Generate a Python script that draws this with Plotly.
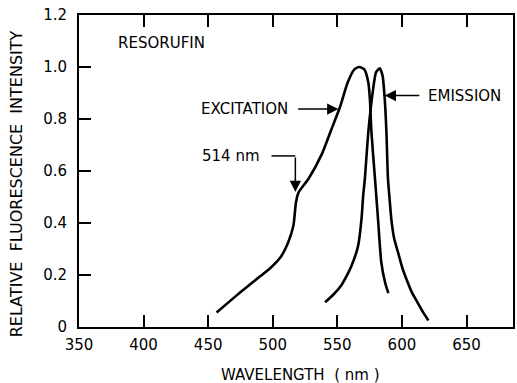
import plotly.graph_objects as go

# Excitation spectrum (wavelength nm, relative intensity)
exc_wl = [456.5, 470, 480, 489, 498, 506, 512, 516, 518, 520, 527.7, 538, 545, 552, 558, 563, 567, 571, 574, 575.2, 576.4, 579, 581.5, 584, 587, 589.5]
exc_int = [0.056, 0.113, 0.154, 0.19, 0.226, 0.268, 0.326, 0.39, 0.48, 0.518, 0.57, 0.665, 0.755, 0.845, 0.94, 0.99, 1.0, 0.99, 0.94, 0.877, 0.75, 0.58, 0.415, 0.25, 0.17, 0.13]

# Emission spectrum
em_wl = [540.5, 547, 553, 557, 561, 566, 568.7, 570, 571.3, 574, 577.7, 580, 582.8, 585, 586.7, 588, 589.2, 590.5, 591.8, 594, 597, 600.5, 604.6, 608, 612, 616, 620.5]
em_int = [0.095, 0.125, 0.16, 0.195, 0.236, 0.31, 0.415, 0.505, 0.57, 0.75, 0.915, 0.98, 0.995, 0.967, 0.877, 0.75, 0.57, 0.49, 0.415, 0.34, 0.287, 0.225, 0.17, 0.13, 0.095, 0.06, 0.025]

x_ticks = [350, 400, 450, 500, 550, 600, 650]
y_ticks = [0, 0.2, 0.4, 0.6, 0.8, 1.0, 1.2]
y_ticktext = ["0", "0.2", "0.4", "0.6", "0.8", "1.0", "1.2"]

FONT = "DejaVu Sans"
fs = 15

fig = go.Figure()
fig.add_trace(go.Scatter(x=exc_wl, y=exc_int, mode="lines",
                         line=dict(color="black", width=2.6, shape="spline", smoothing=0.6),
                         showlegend=False, hoverinfo="skip"))
fig.add_trace(go.Scatter(x=em_wl, y=em_int, mode="lines",
                         line=dict(color="black", width=2.6, shape="spline", smoothing=0.6),
                         showlegend=False, hoverinfo="skip"))

axis_common = dict(showgrid=False, zeroline=False, showline=True, linecolor="black", linewidth=2,
                   ticks="inside", ticklen=12, tickwidth=1.6, tickcolor="black",
                   ticklabeloverflow="allow",
                   tickfont=dict(family=FONT, size=fs, color="black"))

fig.update_xaxes(range=[350, 686], tickmode="array", tickvals=x_ticks,
                 ticktext=[str(v) for v in x_ticks], mirror="ticks",
                 ticklabelstandoff=3, **axis_common)
fig.update_yaxes(range=[0, 1.2], tickmode="array", tickvals=y_ticks,
                 ticktext=y_ticktext, mirror=True, ticklabelstandoff=7, **axis_common)

tf = dict(family=FONT, size=fs, color="black")

W, H = 517, 383
ml, mr, mt, mb = 79, 2, 15, 56
pw, ph = W - ml - mr, H - mt - mb

def px_to_paper(px, py):
    return (px - ml) / pw, (H - mb - py) / ph

ytx, yty = px_to_paper(16, 184)
xtx, xty = px_to_paper(302, 375)

arrow = dict(text="", showarrow=True, arrowhead=2, arrowsize=1.5, arrowwidth=1.5,
             arrowcolor="black", xref="x", yref="y", axref="x", ayref="y")

ann = [
    dict(x=379, y=1.092, xref="x", yref="y", text="RESORUFIN", showarrow=False,
         xanchor="left", yanchor="middle", font=tf),
    dict(x=513.5, y=0.838, xref="x", yref="y", text="EXCITATION", showarrow=False,
         xanchor="right", yanchor="middle", font=tf),
    dict(x=550.8, y=0.838, ax=518.5, ay=0.838, **arrow),
    dict(x=618.5, y=0.89, xref="x", yref="y", text="EMISSION", showarrow=False,
         xanchor="left", yanchor="middle", font=tf),
    dict(x=586.7, y=0.89, ax=614.6, ay=0.89, **arrow),
    dict(x=491.5, y=0.658, xref="x", yref="y", text="514 nm", showarrow=False,
         xanchor="right", yanchor="middle", font=tf),
    dict(x=517.5, y=0.519, ax=517.5, ay=0.658, **arrow),
    dict(x=ytx, y=yty, xref="paper", yref="paper", text="RELATIVE  FLUORESCENCE  INTENSITY",
         showarrow=False, textangle=-90, font=dict(family=FONT, size=16, color="black"),
         xanchor="center", yanchor="middle"),
    dict(x=xtx, y=xty, xref="paper", yref="paper", text="WAVELENGTH  ( nm )",
         showarrow=False, font=tf, xanchor="center", yanchor="middle"),
]

fig.update_layout(width=W, height=H, margin=dict(l=ml, r=mr, t=mt, b=mb),
                  plot_bgcolor="white", paper_bgcolor="white", annotations=ann,
                  shapes=[dict(type="line", xref="x", yref="y", x0=499, x1=517.5, y0=0.658, y1=0.658,
                               line=dict(color="black", width=1.5))])

fig.write_html("out.html", config={"displayModeBar": False},
               post_script="document.body.style.margin='0';document.documentElement.style.overflow='hidden';")
